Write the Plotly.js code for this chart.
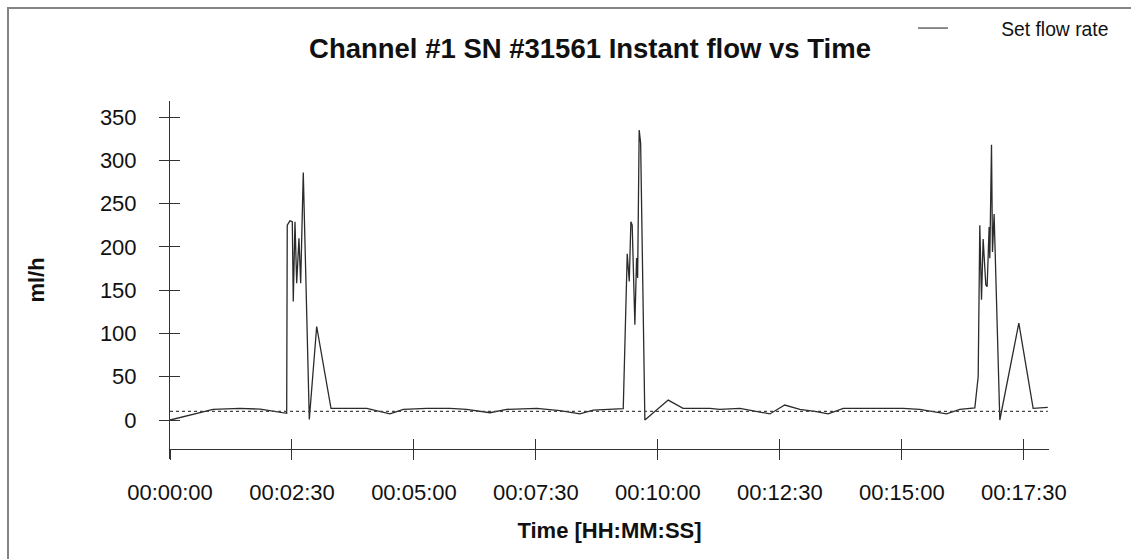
<!DOCTYPE html>
<html>
<head>
<meta charset="utf-8">
<script src="https://cdn.plot.ly/plotly-3.0.1.min.js"></script>
<style>
  html, body { margin: 0; padding: 0; background: #fff; overflow: hidden; }
  #wrap { position: relative; width: 1131px; height: 559px; }
  #chart { position: absolute; left: 0; top: 0; width: 1131px; height: 559px; }
  #frame { position: absolute; left: 7px; top: 7px; width: 1300px; height: 700px;
           border-left: 2px solid #858585; border-top: 2px solid #858585; pointer-events: none; }
</style>
</head>
<body>
<div id="wrap"><div id="chart"></div><div id="frame"></div></div>
<script>
// Time in seconds from start
const timeSec = [0, 37, 53, 86, 111, 143.5, 144.2, 147.5, 150.4, 151.6, 153.7, 155.8, 158.6, 160.7, 163.9,
  171.3, 180.4, 198, 217, 242, 270.5, 287, 315.6, 344.3, 364.8, 393.5, 414, 451, 479.5, 504, 520.5,
  557.4, 562.3, 564.8, 566.8, 568.4, 571.7, 573.8, 575.1, 577, 578.8, 584, 612.7, 631, 664, 676, 701,
  717, 737.7, 756, 774.6, 795, 809.4, 828, 856.6, 901.6, 922, 938.5, 955, 971.3, 989.8, 993.9, 995.9,
  998, 1000, 1003.3, 1004.9, 1007.4, 1008.2, 1010.3, 1011.5, 1013.5, 1020.5, 1043.9, 1061.5, 1079.5];
// Instant flow in ml/h
const instantFlow = [0, 8.4, 12.3, 13.5, 12.5, 7.7, 225, 230, 229, 137, 229, 158, 210, 158, 286,
  0.5, 108, 13.5, 13.5, 13.5, 7, 12.3, 13.5, 13.5, 12.3, 8.4, 12.3, 13.5, 10.8, 7, 11.5,
  13, 192, 160, 229, 225, 110, 187, 164, 335, 320, 0, 23, 13.5, 13.5, 12.3, 13.5,
  10.8, 7, 17.3, 12.3, 9.6, 7, 13.5, 13.5, 13.5, 12.3, 9.6, 7, 12.3, 14, 50, 225,
  139, 209, 156, 154, 223, 187, 318, 194, 238, 0, 112, 13.5, 14.5];
// Set flow rate
const setTimes = [0, 1079.5];
const setFlow = [10, 10];
// Axis ticks
const xTickVals = [0, 150, 300, 450, 600, 750, 900, 1050];
const xTickLabels = ["00:00:00", "00:02:30", "00:05:00", "00:07:30", "00:10:00", "00:12:30", "00:15:00", "00:17:30"];
const yTickVals = [0, 50, 100, 150, 200, 250, 300, 350];

const FONT = "Liberation Sans, Arial, Helvetica, sans-serif";
const AX = "#333333";
const xRange = [0, 1081];
const yRange = [-45.05, 368.5];
const xPos = 0.0279;

const traces = [
  { x: timeSec, y: instantFlow, type: "scatter", mode: "lines", xaxis: "x", yaxis: "y",
    line: { color: "#2b2b2b", width: 1.3 }, showlegend: false, hoverinfo: "skip" },
  { x: setTimes, y: setFlow, type: "scatter", mode: "lines", xaxis: "x2", yaxis: "y2",
    line: { color: "#444444", width: 1.2, dash: "dot" }, showlegend: false, hoverinfo: "skip" },
  { x: [null], y: [null], type: "scatter", mode: "lines", xaxis: "x", yaxis: "y",
    name: "\u00a0\u00a0\u00a0\u00a0\u00a0\u00a0\u00a0\u00a0\u00a0Set flow rate",
    line: { color: "#666666", width: 1.5 }, showlegend: true }
];

const layout = {
  width: 1131, height: 559,
  margin: { l: 170, r: 82, t: 101, b: 100, autoexpand: false },
  paper_bgcolor: "#ffffff", plot_bgcolor: "#ffffff",
  font: { family: FONT, color: "#111111" },
  title: { text: "<b>Channel #1 SN #31561 Instant flow vs Time</b>", font: { size: 27.5, family: FONT, color: "#111" },
           x: 590 / 1131, xref: "container", xanchor: "center", y: 1 - 48 / 559, yref: "container", yanchor: "middle" },
  showlegend: true,
  legend: { x: 913 / 1131, xref: "container", xanchor: "left", y: 1 - 9 / 559, yref: "container", yanchor: "top",
            font: { size: 19.3, family: FONT, color: "#111" }, bgcolor: "rgba(0,0,0,0)" },
  xaxis: { range: xRange, anchor: "free", position: xPos, tickmode: "array", tickvals: xTickVals, ticktext: xTickLabels,
           ticks: "outside", ticklen: 10, tickwidth: 1, tickcolor: AX, showline: true, linecolor: AX, linewidth: 1,
           showgrid: false, zeroline: false, tickfont: { size: 22, family: FONT, color: "#111" }, ticklabelstandoff: 14,
           title: { text: "<b>Time [HH:MM:SS]</b>", font: { size: 22, family: FONT, color: "#111" }, standoff: 18 } },
  yaxis: { range: yRange, anchor: "x", tickmode: "array", tickvals: yTickVals,
           ticks: "outside", ticklen: 10, tickwidth: 1, tickcolor: AX, showline: true, linecolor: AX, linewidth: 1,
           showgrid: false, zeroline: false, tickfont: { size: 22, family: FONT, color: "#111" }, ticklabelstandoff: 18,
           title: { text: "<b>ml/h</b>", font: { size: 22, family: FONT, color: "#111" }, standoff: 49 } },
  xaxis2: { range: xRange, overlaying: "x", anchor: "free", position: xPos, tickmode: "array", tickvals: xTickVals,
            ticks: "inside", ticklen: 10, tickwidth: 1, tickcolor: AX, showticklabels: false, showline: false,
            showgrid: false, zeroline: false },
  yaxis2: { range: yRange, overlaying: "y", anchor: "x", side: "left", tickmode: "array", tickvals: yTickVals,
            ticks: "inside", ticklen: 10, tickwidth: 1, tickcolor: AX, showticklabels: false, showline: false,
            showgrid: false, zeroline: false }
};

Plotly.newPlot("chart", traces, layout, { displayModeBar: false, staticPlot: true });
</script>
</body>
</html>
